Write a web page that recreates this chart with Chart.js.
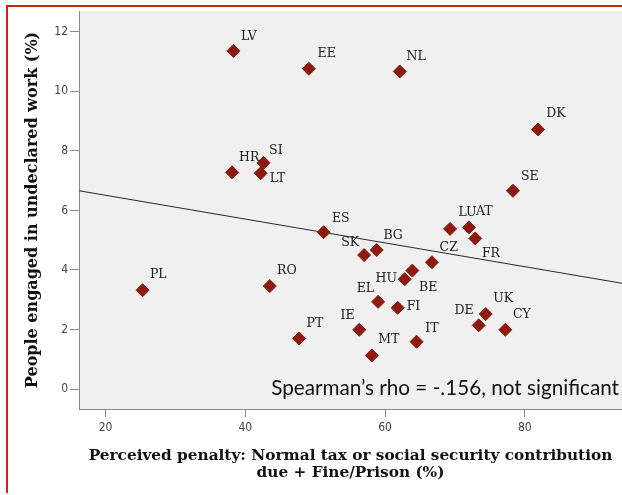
<!DOCTYPE html>
<html>
<head>
<meta charset="utf-8">
<script src="https://cdn.jsdelivr.net/npm/chart.js@4.4.1/dist/chart.umd.min.js"></script>
<style>
  html, body { margin: 0; padding: 0; background: #ffffff; }
  #wrap { width: 622px; height: 495px; position: relative; }
</style>
</head>
<body>
<div id="wrap"><canvas id="c" width="622" height="495"></canvas></div>
<script>
// ---- data ----
const countries = ['LV','EE','NL','DK','SE','HR','SI','LT','PL','RO','PT','ES','SK','BG','CZ','HU','BE','LU','AT','FR','EL','FI','IE','MT','IT','DE','UK','CY'];
const perceivedPenalty = [38.3,49.1,62.1,81.9,78.3,38.1,42.6,42.2,25.3,43.5,47.7,51.2,57.0,58.8,66.7,62.8,63.9,69.3,72.0,72.9,59.0,61.8,56.3,58.1,64.5,73.4,74.4,77.2];
const undeclaredWork = [11.36,10.76,10.67,8.72,6.66,7.28,7.60,7.25,3.32,3.46,1.70,5.27,4.50,4.67,4.26,3.69,3.98,5.38,5.43,5.06,2.93,2.73,1.99,1.13,1.59,2.14,2.52,1.99];
const xTickValues = [20, 40, 60, 80];
const yTickValues = [0, 2, 4, 6, 8, 10, 12];
const fitIntercept = 7.31;
const fitSlope = -0.0400;
const xTitle = ['Perceived penalty: Normal tax or social security contribution', 'due + Fine/Prison (%)'];
const yTitle = 'People engaged in undeclared work (%)';
const annotation = 'Spearman\u2019s rho = -.156, not significant';

// ---- axis extents ----
const X_MIN = 16.2, X_MAX = 93.9, Y_MIN = -0.67, Y_MAX = 12.7;

// ---- label placement (offsets from the marker, px) ----
const labelPlace = {
  LV:[7.6,-14.3,'left'], EE:[8.6,-15,'left'], NL:[6.7,-15,'left'], DK:[8,-15.7,'left'],
  SE:[8,-13.7,'left'], HR:[7,-15,'left'], SI:[5.6,-12,'left'], LT:[9,5.4,'left'],
  PL:[7.3,-15,'left'], RO:[7.3,-15.7,'left'], PT:[7.4,-15,'left'], ES:[8.3,-13.3,'left'],
  SK:[-5,-12.7,'right'], BG:[6.7,-14,'left'], CZ:[7.7,-14.6,'left'], HU:[-7.6,0,'right'],
  BE:[6.7,16.7,'left'], LU:[8.3,-15.7,'left'], AT:[7,-15.7,'left'], FR:[6.7,15,'left'],
  EL:[-4,-13,'right'], FI:[9,-1,'left'], IE:[-4.7,-14,'right'], MT:[6.4,-15.3,'left'],
  IT:[8.7,-13.4,'left'], DE:[-5,-14.3,'right'], UK:[7.6,-15.7,'left'], CY:[7.7,-15.4,'left']
};

const points = countries.map((c, i) => ({ x: perceivedPenalty[i], y: undeclaredWork[i], label: c }));
const fitLine = [X_MIN, X_MAX].map(x => ({ x: x, y: fitIntercept + fitSlope * x }));

const decorPlugin = {
  id: 'decor',
  beforeDraw(chart) {
    const { ctx, chartArea: a } = chart;
    ctx.save();
    ctx.fillStyle = '#f0f0f0';
    ctx.fillRect(a.left, a.top, a.right - a.left, a.bottom - a.top);
    ctx.restore();
  },
  afterDraw(chart) {
    const { ctx, chartArea: a } = chart;
    ctx.save();
    // red frame (top + left)
    ctx.strokeStyle = '#dc1c1c';
    ctx.lineWidth = 2;
    ctx.beginPath();
    ctx.moveTo(7, 493); ctx.lineTo(7, 6); ctx.lineTo(622, 6);
    ctx.stroke();
    // labels
    const meta = chart.getDatasetMeta(1);
    ctx.font = '12.5px "DejaVu Serif", serif';
    ctx.fillStyle = '#222';
    ctx.textBaseline = 'middle';
    meta.data.forEach((el, i) => {
      const c = countries[i];
      const p = labelPlace[c] || [8, -15, 'left'];
      ctx.textAlign = p[2];
      ctx.fillText(c, el.x + p[0], el.y + p[1]);
    });
    // annotation
    ctx.font = '20.7px Lato, sans-serif';
    ctx.fillStyle = '#111';
    ctx.textAlign = 'right';
    ctx.fillText(annotation, a.right - 3, 388);
    ctx.restore();
  }
};

new Chart(document.getElementById('c'), {
  type: 'scatter',
  data: {
    datasets: [
      {
        type: 'line',
        data: fitLine,
        borderColor: '#2a2a2a',
        borderWidth: 1.2,
        pointRadius: 0,
        fill: false,
        order: 2
      },
      {
        data: points,
        pointStyle: 'rectRot',
        pointRadius: 6.5,
        pointHoverRadius: 6.5,
        backgroundColor: '#8c1a10',
        borderColor: '#8c1a10',
        borderWidth: 1,
        order: 1
      }
    ]
  },
  plugins: [decorPlugin],
  options: {
    responsive: false,
    devicePixelRatio: 1,
    animation: false,
    events: [],
    layout: { autoPadding: false, padding: { top: 11, left: 0, right: 0, bottom: 0 } },
    plugins: { legend: { display: false }, tooltip: { enabled: false } },
    scales: {
      x: {
        type: 'linear',
        min: X_MIN, max: X_MAX,
        afterFit(s) { s.height = 86; s.paddingLeft = 0; s.paddingRight = 0; },
        afterBuildTicks(s) { s.ticks = xTickValues.map(v => ({ value: v })); },
        ticks: { includeBounds: false, padding: 4, color: '#444',
                 font: { family: '"DejaVu Sans Condensed", "DejaVu Sans", sans-serif', size: 12 } },
        grid: { drawOnChartArea: false, drawTicks: true, tickLength: 8, color: '#8a8a8a' },
        border: { display: true, color: '#8a8a8a', width: 1 },
        title: {
          display: true, text: xTitle, color: '#111',
          font: { family: '"DejaVu Serif", serif', size: 15.3, weight: 'bold', lineHeight: '17px' },
          padding: { top: 0, bottom: 13.5 }
        }
      },
      y: {
        type: 'linear',
        min: Y_MIN, max: Y_MAX,
        afterFit(s) { s.width = 79; s.paddingTop = 0; s.paddingBottom = 0; },
        afterBuildTicks(s) { s.ticks = yTickValues.map(v => ({ value: v })); },
        ticks: { includeBounds: false, padding: 2, color: '#444',
                 font: { family: '"DejaVu Sans Condensed", "DejaVu Sans", sans-serif', size: 12 } },
        grid: { drawOnChartArea: false, drawTicks: true, tickLength: 9, color: '#8a8a8a' },
        border: { display: true, color: '#8a8a8a', width: 1 },
        title: {
          display: true, text: yTitle, color: '#111',
          font: { family: '"DejaVu Serif", serif', size: 16, weight: 'bold', lineHeight: '18px' },
          padding: { top: 24, bottom: 0 }
        }
      }
    }
  }
});
</script>
</body>
</html>
